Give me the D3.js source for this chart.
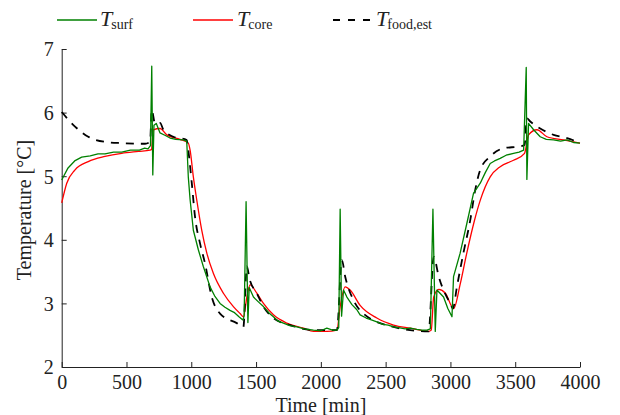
<!DOCTYPE html>
<html><head><meta charset="utf-8">
<script src="https://cdn.jsdelivr.net/npm/d3@7"></script>
<style>
html,body{margin:0;padding:0;background:#fff;}
svg{display:block;}
text{font-family:"Liberation Serif","Times New Roman",serif;fill:#222;}
</style></head>
<body>
<svg id="chart" width="620" height="415"></svg>
<script>
// ---- data ----
const xTicks = [0, 500, 1000, 1500, 2000, 2500, 3000, 3500, 4000];
const yTicks = [2, 3, 4, 5, 6, 7];

const surfTime = [0,20,49,100,154,220,280,334,400,463,530,600,640,666,685,695,703,712,730,759,800,836,880,937,965,977,991,1016,1055,1093,1145,1180,1222,1260,1299,1330,1368,1398,1408,1423,1437,1447,1480,1520,1557,1600,1634,1670,1711,1760,1815,1870,1943,2000,2046,2090,2124,2138,2149,2160,2175,2201,2240,2278,2303,2350,2390,2432,2480,2520,2561,2600,2650,2690,2740,2780,2819,2845,2865,2883,2896,2947,2980,3012,3024,3075,3127,3178,3230,3270,3307,3340,3384,3430,3487,3530,3565,3585,3590,3603,3642,3693,3740,3796,3850,3900,3950,4000];
const surfTemp = [4.94,5.02,5.13,5.24,5.30,5.32,5.35,5.35,5.38,5.38,5.41,5.41,5.44,5.43,5.48,6.73,5.02,5.80,5.83,5.68,5.64,5.60,5.58,5.57,5.55,4.99,4.63,4.15,3.84,3.58,3.26,3.12,3.00,2.94,2.89,2.86,2.79,2.74,2.80,4.60,2.70,3.25,3.10,3.02,2.95,2.85,2.79,2.72,2.69,2.65,2.63,2.60,2.58,2.57,2.61,2.58,2.58,2.62,4.48,2.80,3.21,3.10,2.98,2.90,2.82,2.77,2.74,2.71,2.67,2.66,2.63,2.62,2.60,2.61,2.59,2.58,2.58,2.60,4.48,2.56,3.21,3.10,2.92,2.79,3.42,3.79,4.26,4.73,4.89,5.06,5.20,5.24,5.28,5.33,5.36,5.38,5.41,6.71,4.95,5.83,5.73,5.62,5.58,5.57,5.55,5.57,5.53,5.52];

const coreTime = [0,39,103,205,334,463,592,682,693,707,759,811,913,977,991,1016,1042,1081,1120,1171,1248,1325,1377,1402,1429,1454,1506,1557,1634,1737,1866,1943,2046,2124,2149,2188,2226,2303,2432,2561,2690,2832,2852,2871,2910,2961,3025,3075,3127,3185,3230,3307,3384,3487,3572,3603,3668,3745,3873,4000];
const coreTemp = [4.58,4.89,5.10,5.23,5.31,5.36,5.39,5.41,5.42,5.73,5.75,5.65,5.58,5.52,5.41,4.99,4.63,4.15,3.79,3.47,3.16,2.95,2.84,2.79,3.10,3.29,3.16,3.00,2.82,2.69,2.61,2.56,2.56,2.58,2.95,3.26,3.21,2.97,2.77,2.66,2.61,2.56,2.58,3.10,3.22,3.16,2.92,3.30,3.80,4.30,4.62,4.99,5.15,5.25,5.36,5.65,5.73,5.62,5.57,5.52];

const foodTime = [0,103,205,334,463,643,682,695,720,759,785,862,965,977,1004,1029,1068,1106,1158,1222,1351,1402,1429,1449,1506,1557,1634,1763,1943,2124,2162,2188,2252,2329,2561,2832,2871,2910,2998,3019,3050,3100,3153,3191,3230,3307,3410,3539,3572,3590,3616,3693,3796,3900,4000];
const foodTemp = [6.01,5.78,5.62,5.54,5.52,5.51,5.54,6.04,5.83,5.84,5.73,5.62,5.57,5.41,4.89,4.36,3.94,3.63,3.10,2.84,2.69,2.63,3.58,3.39,3.16,2.95,2.77,2.66,2.58,2.58,3.68,3.42,3.05,2.84,2.63,2.56,3.73,3.42,3.00,2.92,3.26,3.79,4.31,4.78,5.10,5.31,5.44,5.47,5.49,5.91,5.86,5.75,5.65,5.60,5.52];

// ---- layout ----
const svg = d3.select("#chart");
const L = 61.7, R = 580, T = 49, B = 367;
const x = d3.scaleLinear().domain([0, 4000]).range([L, R]);
const y = d3.scaleLinear().domain([2, 7]).range([B, T]);

const axisColor = "#222";
const fs = 20;

// axes
const gx = svg.append("g").attr("transform", `translate(0,${B})`)
  .call(d3.axisBottom(x).tickValues(xTicks).tickFormat(d3.format("d")).tickSizeInner(-5).tickSizeOuter(0).tickPadding(8));
const gy = svg.append("g").attr("transform", `translate(${L},0)`)
  .call(d3.axisLeft(y).tickValues(yTicks).tickFormat(d3.format("d")).tickSizeInner(-5).tickSizeOuter(0).tickPadding(8));
[gx, gy].forEach(g => {
  g.select(".domain").attr("stroke", axisColor).attr("stroke-width", 1);
  g.selectAll(".tick line").attr("stroke", axisColor).attr("stroke-width", 1);
  g.selectAll(".tick text").attr("font-family", "Liberation Serif, serif").attr("font-size", fs).attr("fill", "#222");
});
gy.selectAll(".tick text").attr("dy", "0.34em");

// axis titles
svg.append("text").attr("x", (L + R) / 2).attr("y", 412).attr("text-anchor", "middle")
  .attr("font-size", fs).text("Time [min]");
svg.append("text").attr("transform", `translate(31,${(T + B) / 2 + 2}) rotate(-90)`).attr("text-anchor", "middle")
  .attr("font-size", fs).text("Temperature [°C]");

// lines
const mk = (ts, vs) => ts.map((t, i) => [t, vs[i]]);
const lineLin = d3.line().x(d => x(d[0])).y(d => y(d[1]));
const lineSmooth = d3.line().x(d => x(d[0])).y(d => y(d[1])).curve(d3.curveMonotoneX);

svg.append("path").datum(mk(coreTime, coreTemp)).attr("d", lineSmooth)
  .attr("fill", "none").attr("stroke", "#ff0000").attr("stroke-width", 1.3);
svg.append("path").datum(mk(foodTime, foodTemp)).attr("d", lineSmooth)
  .attr("fill", "none").attr("stroke", "#000").attr("stroke-width", 1.8).attr("stroke-dasharray", "8,7");
svg.append("path").datum(mk(surfTime, surfTemp)).attr("d", lineLin)
  .attr("fill", "none").attr("stroke", "#008000").attr("stroke-width", 1.3).attr("stroke-linejoin", "round");

// legend
const legend = [
  {x1: 57, x2: 97, tx: 100, color: "#008000", dash: null, w: 1.3, sub: "surf"},
  {x1: 193, x2: 233, tx: 237, color: "#ff0000", dash: null, w: 1.3, sub: "core"},
  {x1: 333, x2: 373, tx: 376, color: "#000", dash: "7,8", w: 2, sub: "food,est"}
];
const lg = svg.append("g");
legend.forEach(d => {
  lg.append("line").attr("x1", d.x1).attr("x2", d.x2).attr("y1", 20).attr("y2", 20)
    .attr("stroke", d.color).attr("stroke-width", d.w).attr("stroke-dasharray", d.dash);
  const t = lg.append("text").attr("x", d.tx).attr("y", 26).attr("font-size", 22);
  t.append("tspan").attr("font-style", "italic").text("T");
  t.append("tspan").attr("font-size", 14).attr("dy", 3).attr("dx", -1).text(d.sub);
});
</script>
</body></html>
